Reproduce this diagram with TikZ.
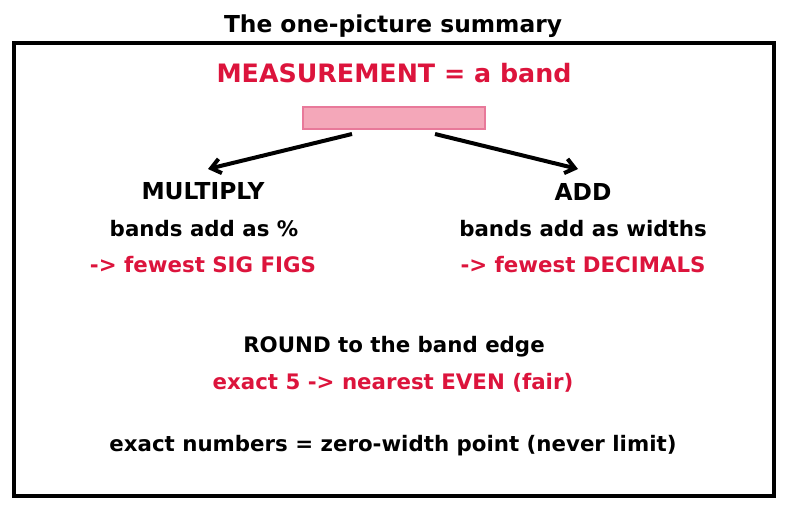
\documentclass[tikz,border=0pt]{standalone}
\usepackage{fontspec}
\setmainfont{DejaVu Sans}
\usetikzlibrary{arrows.meta}
\definecolor{crim}{HTML}{DC143C}
\definecolor{bandfill}{HTML}{F4A7B9}
\definecolor{bandedge}{HTML}{E8799A}
\tikzset{
  txt/.style={font=\bfseries\fontsize{16}{19}\selectfont, inner sep=0pt},
  head/.style={font=\bfseries\fontsize{17.5}{21}\selectfont, inner sep=0pt},
  red/.style={text=crim},
  arr/.style={line width=3pt, -{Straight Barb[length=7pt,width=11pt,line width=3pt]}}
}
\begin{document}
\begin{tikzpicture}[x=0.75pt,y=-0.75pt]
\useasboundingbox (0,0) rectangle (787,510);
\draw[line width=3pt] (14,43) rectangle (774,496);
\node[head] (title) at (393,26.5) {The one-picture summary};
\node[txt, red, font=\bfseries\fontsize{19}{23}\selectfont] (meas) at (394,73) {MEASUREMENT = a band};
\node[draw=bandedge, fill=bandfill, line width=0.8pt, minimum width=136.5pt, minimum height=16.5pt, inner sep=0pt] (band) at (394,118) {};
\coordinate (bl) at (352,134);
\coordinate (br) at (435,134);
\coordinate (tl) at (208,169);
\coordinate (tr) at (578,169);
\draw[arr] (bl) -- (tl);
\draw[arr] (br) -- (tr);
\node[head] (mult) at (203,191.5) {MULTIPLY};
\node[txt] (m1) at (204,228.5) {bands add as \%};
\node[txt, red] (m2) at (203,264.5) {-> fewest SIG FIGS};
\node[head] (add) at (583,191.5) {ADD};
\node[txt] (a1) at (583,228.5) {bands add as widths};
\node[txt, red] (a2) at (583,264.5) {-> fewest DECIMALS};
\node[txt] (r1) at (394,346.5) {ROUND to the band edge};
\node[txt, red] (r2) at (393,382.5) {exact 5 -> nearest EVEN (fair)};
\node[txt] (ex) at (393,445.5) {exact numbers = zero-width point (never limit)};
\end{tikzpicture}
\end{document}
